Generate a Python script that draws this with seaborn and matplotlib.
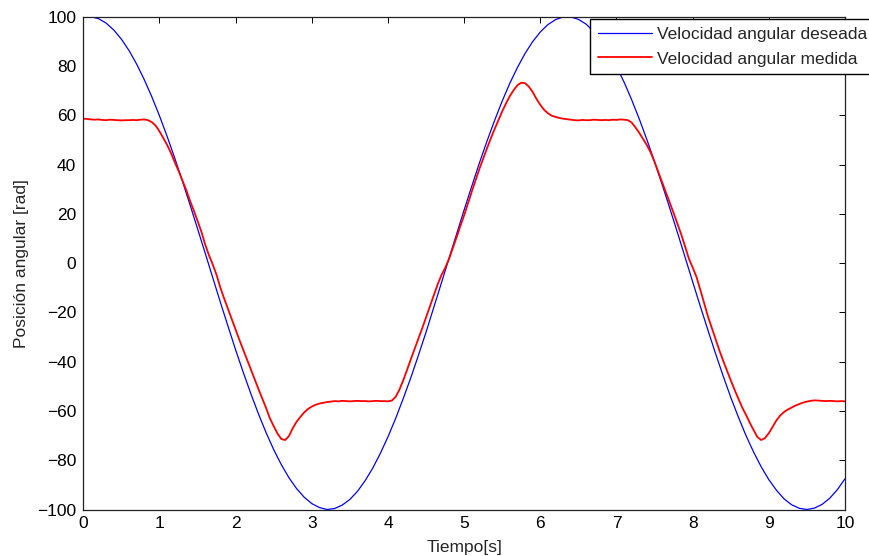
"""Desired vs measured angular velocity plot."""

import matplotlib
matplotlib.use("Agg")
import matplotlib.pyplot as plt
import seaborn as sns
import pandas as pd
import numpy as np

# Desired signal, sampled every 0.1 s
desired_step = 0.1
desired_values = [
    99.8, 100.0, 99.2, 97.4, 94.6, 90.9, 86.3, 80.8, 74.5, 67.5,
    59.8, 51.5, 42.7, 33.4, 23.8, 14.0, 4.1, -5.9, -15.9, -25.6,
    -35.2, -44.3, -53.0, -61.2, -68.8, -75.7, -81.8, -87.1, -91.5, -95.0,
    -97.6, -99.2, -100.0, -99.6, -98.2, -95.9, -92.6, -88.3, -83.2, -77.2,
    -70.5, -63.1, -55.0, -46.5, -37.4, -28.0, -18.1, -8.2, 1.8, 11.7,
    21.6, 31.2, 40.6, 49.5, 57.9, 65.8, 73.0, 79.4, 85.1, 89.9,
    93.8, 96.8, 98.8, 99.9, 99.9, 98.9, 97.0, 94.0, 90.2, 85.4,
    79.8, 73.4, 66.2, 58.4, 50.0, 41.1, 31.8, 22.2, 12.4, 2.4,
    -7.6, -17.5, -27.2, -36.7, -45.8, -54.5, -62.5, -70.0, -76.7, -82.7,
    -87.9, -92.2, -95.7, -98.1, -99.5, -100.0, -99.4, -97.9, -95.4, -91.9,
    -87.5,
]

# Measured signal, sampled every 0.05 s
measured_step = 0.05
measured_values = [
    58.6, 58.5, 58.3, 58.2, 58.3, 58.1, 58.0, 58.2, 58.1, 58.0,
    57.9, 58.0, 58.0, 58.1, 58.0, 58.2, 58.3, 58.0, 57.2, 55.8,
    53.5, 50.8, 48.0, 44.8, 41.0, 37.5, 33.6, 29.8, 25.4, 21.4,
    17.2, 12.8, 7.6, 3.2, -0.6, -4.8, -10.0, -14.4, -18.6, -22.9,
    -27.0, -31.2, -35.2, -39.1, -43.1, -47.1, -51.1, -55.0, -58.8, -63.0,
    -66.2, -69.2, -71.4, -71.8, -70.2, -67.0, -64.4, -62.4, -60.6, -59.2,
    -58.2, -57.5, -57.0, -56.7, -56.4, -56.2, -56.0, -56.1, -55.9, -56.0,
    -56.1, -56.0, -55.9, -56.0, -56.0, -56.1, -56.0, -55.9, -56.0, -56.0,
    -56.1, -55.8, -54.3, -51.4, -47.6, -43.4, -39.0, -34.8, -30.6, -26.4,
    -22.0, -17.6, -13.2, -8.8, -5.0, -2.0, 1.6, 6.0, 10.4, 15.0,
    19.4, 24.2, 29.0, 33.6, 38.2, 42.4, 46.6, 50.6, 54.4, 58.0,
    61.6, 64.8, 67.8, 70.2, 72.2, 73.2, 73.0, 71.6, 69.4, 66.6,
    64.2, 62.2, 60.8, 59.8, 59.3, 58.9, 58.6, 58.4, 58.2, 58.0,
    57.9, 58.1, 58.0, 58.0, 58.2, 58.1, 58.0, 58.1, 58.0, 58.2,
    58.1, 58.3, 58.2, 58.0, 57.0, 55.0, 52.8, 50.3, 47.8, 44.8,
    41.0, 36.8, 32.7, 28.6, 24.4, 20.3, 16.0, 11.6, 6.8, 1.8,
    -1.8, -5.6, -10.8, -16.2, -21.6, -26.2, -30.8, -35.4, -39.6, -43.6,
    -47.6, -51.4, -55.0, -58.6, -61.6, -64.8, -67.8, -70.6, -71.8, -71.0,
    -69.0, -66.4, -63.8, -61.8, -60.4, -59.4, -58.6, -57.8, -57.2, -56.6,
    -56.2, -55.9, -55.7, -55.8, -55.9, -56.0, -55.9, -56.0, -56.1, -56.0,
    -56.1,
]

series_labels = ["Velocidad angular deseada", "Velocidad angular medida"]
x_ticks = list(range(0, 11))
y_ticks = list(range(-100, 101, 20))

sns.set_style("white")
plt.rcParams["font.family"] = ["Liberation Sans", "DejaVu Sans"]
plt.rcParams["font.size"] = 12.5
plt.rcParams["axes.unicode_minus"] = True

desired_df = pd.DataFrame({
    "t": np.arange(len(desired_values)) * desired_step,
    "v": desired_values,
})
measured_df = pd.DataFrame({
    "t": np.arange(len(measured_values)) * measured_step,
    "v": measured_values,
})

fig = plt.figure(figsize=(8.7, 5.56), dpi=100)
ax = fig.add_axes([0.0957, 0.0836, 0.8756, 0.8864])

sns.lineplot(data=desired_df, x="t", y="v", color="#0000ff", linewidth=0.9,
             label=series_labels[0], ax=ax)
sns.lineplot(data=measured_df, x="t", y="v", color="#ff0000", linewidth=1.3,
             label=series_labels[1], ax=ax)

ax.set_xlim(0, 10)
ax.set_ylim(-100, 100)
ax.set_xticks(x_ticks)
ax.set_yticks(y_ticks)
ax.tick_params(direction="in", length=4.5, width=0.7, top=True, right=True,
               labelsize=12.5, colors="black", pad=5)
for side in ax.spines.values():
    side.set_color("#222222")
    side.set_linewidth(0.9)

ax.set_xlabel("Tiempo[s]", fontsize=12.5, labelpad=6)
ax.set_ylabel("Posición angular [rad]", fontsize=12.5, labelpad=6)

leg = ax.legend(loc="upper right", bbox_to_anchor=(1.006, 0.966),
                bbox_transform=fig.transFigure, frameon=True, fancybox=False,
                framealpha=1, edgecolor="black", fontsize=12.5,
                handlelength=3.1, handletextpad=0.3, borderpad=0.45,
                labelspacing=0.55, borderaxespad=0)
leg.get_frame().set_linewidth(1.0)

fig.savefig("out.png", dpi=100)
